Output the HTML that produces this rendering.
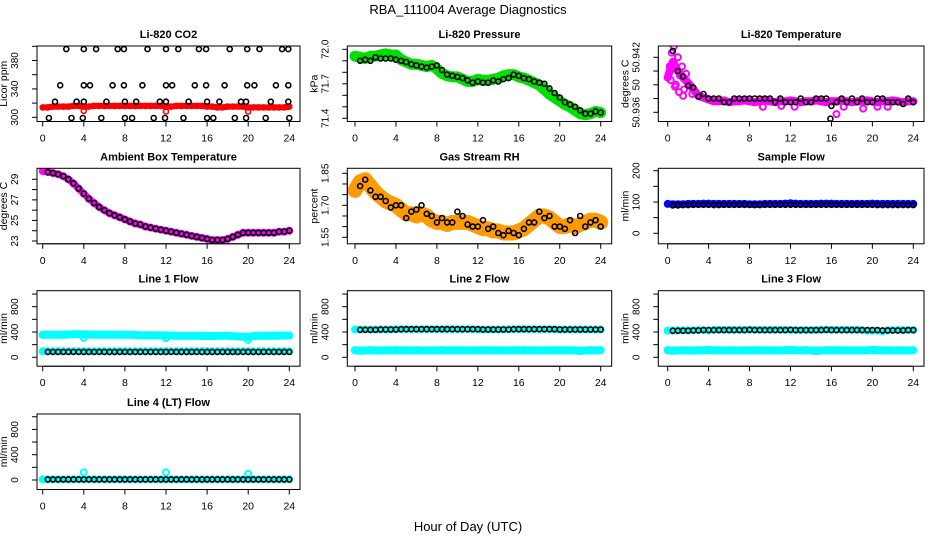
<!DOCTYPE html>
<html><head><meta charset="utf-8"><title>RBA_111004 Average Diagnostics</title>
<style>
html,body{margin:0;padding:0;background:#fff;}
svg{display:block;font-family:"Liberation Sans",Arial,sans-serif;}
</style></head>
<body>
<svg id="chart" width="936" height="540" viewBox="0 0 936 540">
<text x="468" y="14" text-anchor="middle" font-size="13">RBA_111004  Average Diagnostics</text>
<text x="468" y="531" text-anchor="middle" font-size="13">Hour of Day (UTC)</text>
</svg>
<script>
const HOURS = [0,0.5,1,1.5,2,2.5,3,3.5,4,4.5,5,5.5,6,6.5,7,7.5,8,8.5,9,9.5,10,10.5,11,11.5,12,12.5,13,13.5,14,14.5,15,15.5,16,16.5,17,17.5,18,18.5,19,19.5,20,20.5,21,21.5,22,22.5,23,23.5,24];
const BHOURS = [0.5,1,1.5,2,2.5,3,3.5,4,4.5,5,5.5,6,6.5,7,7.5,8,8.5,9,9.5,10,10.5,11,11.5,12,12.5,13,13.5,14,14.5,15,15.5,16,16.5,17,17.5,18,18.5,19,19.5,20,20.5,21,21.5,22,22.5,23,23.5,24];
const X_TICKS = [0,4,8,12,16,20,24];

// Li-820 CO2
const co2Red = [314,314,315,315,315,315,316,316,315,315,316,316,316,316,316,316,316,316,316,316,316,316,316,316,315,315,316,316,316,316,316,316,315,315,314,314,315,315,315,315,314,314,314,314,314,314,314,314,315];
const co2DipH = [4,12,20];
const co2DipV = [309,308,308];
const co2BlackH = [2.3,4.0,5.2,7.3,7.9,10.2,12.0,13.2,15.2,15.9,18.2,19.9,21.1,23.3,23.9,1.7,4.0,4.6,6.8,7.9,9.7,12.0,12.6,14.8,15.9,17.7,19.9,20.6,22.7,23.9,1.2,3.3,4.0,6.2,8.0,9.1,11.4,12.0,14.2,16.0,17.2,19.3,19.8,22.2,23.9,0.6,2.8,3.9,5.7,8.0,8.7,10.8,11.9,13.7,16.0,16.6,18.7,19.8,21.7,24.0];
const co2BlackV = [396,396,396,396,396,396,396,396,396,396,396,396,396,396,396,345,345,345,345,345,345,345,345,345,345,345,345,345,345,345,322,322,322,322,322,322,322,322,322,322,322,322,322,322,322,299,299,299,299,299,299,299,299,299,299,299,299,299,299,299];

// Li-820 Pressure
const presGreen = [71.94,71.93,71.92,71.94,71.94,71.95,71.96,71.95,71.95,71.91,71.89,71.87,71.87,71.86,71.85,71.86,71.83,71.79,71.77,71.76,71.76,71.74,71.72,71.72,71.74,71.73,71.73,71.74,71.75,71.77,71.78,71.78,71.76,71.75,71.73,71.71,71.69,71.65,71.61,71.58,71.55,71.52,71.50,71.47,71.44,71.43,71.44,71.46,71.45];
const presBlack = [71.90,71.91,71.90,71.93,71.92,71.92,71.92,71.91,71.90,71.89,71.87,71.86,71.85,71.84,71.85,71.86,71.82,71.78,71.77,71.76,71.75,71.73,71.71,71.72,71.71,71.71,71.73,71.72,71.74,71.75,71.78,71.77,71.75,71.74,71.72,71.71,71.70,71.66,71.62,71.58,71.54,71.52,71.50,71.47,71.44,71.44,71.46,71.45];

// Li-820 Temperature
const ltMag = [50.9398,50.9415,50.9405,50.9398,50.9392,50.9385,50.9378,50.9376,50.9374,50.9372,50.9372,50.9373,50.9371,50.9372,50.9372,50.9373,50.9372,50.9371,50.9372,50.9373,50.9372,50.9371,50.9372,50.9372,50.9373,50.9372,50.9371,50.9372,50.9372,50.9373,50.9372,50.9371,50.9372,50.9372,50.9373,50.9372,50.9371,50.9372,50.9372,50.9373,50.9372,50.9371,50.9372,50.9372,50.9373,50.9372,50.9371,50.9372,50.9372];
const ltExtraH = [0.2,0.4,0.6,0.8,1.0,1.2,1.4,1.6,1.8,2.0,0.3,0.7,1.1,1.5,2.4,9.3,11.1,12.4,16.5,17.2,19.1,20.5,21.5];
const ltExtraV = [50.9410,50.9425,50.9432,50.9390,50.9420,50.9400,50.9410,50.9385,50.9402,50.9392,50.9395,50.9388,50.9382,50.9378,50.9380,50.9366,50.9367,50.9366,50.9358,50.9366,50.9364,50.9366,50.9366];
const ltBlack = [50.9427,50.9405,50.9399,50.9389,50.9387,50.9377,50.9380,50.9375,50.9375,50.9375,50.9371,50.9371,50.9375,50.9375,50.9375,50.9375,50.9375,50.9375,50.9375,50.9375,50.9371,50.9375,50.9371,50.9371,50.9371,50.9375,50.9371,50.9371,50.9375,50.9375,50.9375,50.9367,50.9371,50.9375,50.9371,50.9375,50.9371,50.9375,50.9371,50.9371,50.9375,50.9375,50.9371,50.9371,50.9371,50.9369,50.9375,50.9371];
const ltBlackOutH = [15.9];
const ltBlackOutV = [50.9353];

// Ambient Box Temperature
const ambMag = [29.8,29.7,29.6,29.5,29.3,29.0,28.6,28.1,27.6,27.1,26.7,26.3,26.0,25.7,25.5,25.3,25.1,24.9,24.7,24.6,24.4,24.3,24.2,24.1,24.0,23.9,23.8,23.7,23.6,23.5,23.4,23.3,23.2,23.1,23.1,23.1,23.2,23.4,23.6,23.8,23.8,23.8,23.8,23.8,23.8,23.8,23.9,23.9,24.0];
const ambBlack = [29.7,29.6,29.5,29.3,29.0,28.6,28.1,27.6,27.1,26.7,26.3,26.0,25.7,25.5,25.3,25.1,24.9,24.7,24.6,24.4,24.3,24.2,24.1,24.0,23.9,23.8,23.7,23.6,23.5,23.4,23.3,23.2,23.1,23.1,23.1,23.2,23.4,23.6,23.8,23.8,23.8,23.8,23.8,23.8,23.8,23.9,23.9,24.0];

// Gas Stream RH
const rhOrange = [1.77,1.81,1.82,1.79,1.76,1.74,1.72,1.71,1.70,1.68,1.66,1.66,1.65,1.66,1.65,1.63,1.62,1.62,1.61,1.62,1.62,1.62,1.62,1.61,1.60,1.59,1.59,1.58,1.58,1.57,1.57,1.57,1.58,1.59,1.61,1.63,1.65,1.65,1.64,1.62,1.60,1.60,1.61,1.60,1.61,1.62,1.63,1.63,1.62];
const rhBlack = [1.79,1.82,1.77,1.74,1.74,1.72,1.69,1.70,1.70,1.64,1.67,1.68,1.70,1.66,1.65,1.62,1.64,1.62,1.62,1.67,1.65,1.61,1.60,1.60,1.63,1.59,1.60,1.57,1.56,1.58,1.57,1.56,1.59,1.62,1.62,1.67,1.64,1.65,1.60,1.60,1.59,1.63,1.57,1.65,1.60,1.62,1.63,1.60];

// Sample Flow
const sfBlue = [94,93,93,93,94,94,94,95,95,94,94,94,94,94,94,94,93,93,93,94,94,94,94,95,96,95,94,94,94,94,95,95,95,94,94,94,94,94,94,94,95,94,94,94,94,94,94,94,94];
const sfBlack = [89,89,90,90,91,91,91,91,90,90,91,91,91,91,91,91,90,90,91,91,91,91,91,91,91,91,91,91,91,91,91,91,91,91,91,91,91,91,91,91,90,90,90,90,90,90,90,90];

// Line 1 Flow
const l1Upper = [355,355,355,355,358,360,365,365,362,360,358,358,360,358,357,356,355,355,352,350,350,350,348,347,346,344,342,340,338,340,340,338,335,336,338,340,340,335,330,325,322,335,340,340,340,342,342,345,345];
const l1Lower = [95,95,95,95,95,95,95,95,95,95,95,95,95,95,95,95,95,95,95,95,95,95,95,95,95,95,95,95,95,95,95,95,95,95,95,95,95,95,95,95,95,95,95,95,95,95,95,95,95];
const l1Black = [85,85,85,85,85,85,85,85,85,85,85,85,85,85,85,85,85,85,85,85,85,85,85,85,85,85,85,85,85,85,85,85,85,85,85,85,85,85,85,85,85,85,85,85,85,85,85,85];
const l1OutH = [4,12,20];
const l1OutV = [310,300,275];

// Line 2 Flow
const l2Upper = [440,440,440,440,440,440,440,440,445,445,445,445,445,445,445,445,445,445,445,445,445,445,445,445,440,440,440,440,440,440,445,445,445,445,445,445,445,445,445,440,440,440,440,440,440,440,440,440,440];
const l2Lower = [110,105,108,110,108,106,110,108,110,108,110,108,110,108,108,110,108,110,108,110,108,110,108,110,108,110,108,110,108,110,108,110,108,110,108,110,108,110,108,110,108,110,108,110,100,108,110,108,110];
const l2Black = [435,435,435,435,440,440,440,440,445,445,445,445,445,445,445,445,445,445,445,445,445,445,445,445,440,440,440,440,440,440,445,445,445,445,445,445,445,445,445,440,440,440,440,440,440,440,440,440];

// Line 3 Flow
const l3Upper = [420,420,425,425,425,425,430,430,425,435,435,435,435,435,435,435,435,435,435,435,435,435,435,435,430,430,430,430,430,430,435,435,435,435,435,435,435,435,430,420,420,420,410,425,430,430,430,430,430];
const l3Lower = [110,105,108,110,108,106,110,108,115,108,110,108,110,108,108,110,108,110,108,110,108,110,108,110,115,110,108,110,108,100,108,110,108,110,108,110,108,110,108,110,115,110,108,110,108,108,110,108,110];
const l3Black = [420,420,420,420,425,425,430,430,430,430,430,430,430,430,430,435,430,430,430,430,430,430,430,435,430,430,430,430,430,430,435,430,430,430,430,430,430,430,430,430,430,425,425,425,425,425,430,430];

// Line 4 (LT) Flow
const l4Cyan = [10,10,10,10,10,10,10,10,10,10,10,10,10,10,10,10,10,10,10,10,10,10,10,10,10,10,10,10,10,10,10,10,10,10,10,10,10,10,10,10,10,10,10,10,10,10,10,10,10];
const l4Black = [10,10,10,10,10,10,10,10,10,10,10,10,10,10,10,10,10,10,10,10,10,10,10,10,10,10,10,10,10,10,10,10,10,10,10,10,10,10,10,10,10,10,10,10,10,10,10,10];
const l4OutH = [4,12,20];
const l4OutV = [120,120,100];

const NS = "http://www.w3.org/2000/svg";
const svg = document.getElementById("chart");
const ROW_TOP = [46,168.3,290.7,414];
const BOX_H = 75.5;
const COLS = [
  {left:37,right:300,x0:42.7,x24:289.3},
  {left:347.3,right:611.7,x0:355,x24:600.7},
  {left:658.3,right:924,x0:667.7,x24:913.3}
];
function mk(tag, attrs, parent){
  const e = document.createElementNS(NS, tag);
  for (const k in attrs) e.setAttribute(k, attrs[k]);
  (parent||svg).appendChild(e);
  return e;
}

function panel(p){
  const c = COLS[p.col], top = ROW_TOP[p.row], bot = top + BOX_H;
  const g = mk("g", {});
  
  
  const xs = h => c.x0 + (c.x24 - c.x0) * h / 24;
  const ys = v => top + p.a1[1] + (v - p.a1[0]) * (p.a2[1] - p.a1[1]) / (p.a2[0] - p.a1[0]);
  const clip = 'clip-' + p.name;
  const cp = mk("clipPath", {id: clip}, g);
  mk("rect", {x:c.left, y:top, width:c.right-c.left, height:BOX_H}, cp);
  const plot = mk("g", {"clip-path": "url(#" + clip + ")"}, g);
  
  
  for (const s of p.series){
    const sg = mk("g", {}, plot);
    
    
    if (s.band){
      const pts = s.h.map((h,i) => xs(h).toFixed(1) + "," + ys(s.v[i]).toFixed(1)).join(" ");
      const pl = mk("polyline", {points: pts, fill:"none", stroke:s.color, "stroke-width":s.band, "stroke-linejoin":"round", "stroke-linecap":"round"}, sg);
      
      
    }
    s.h.forEach((h,i) => {
      const ci = mk("circle", {cx:xs(h).toFixed(1), cy:ys(s.v[i]).toFixed(1), r:s.r||2.5, fill:"none", stroke:s.color, "stroke-width":s.sw||1.6}, sg);
      
      
    });
  }
  const box = mk("rect", {x:c.left, y:top, width:c.right-c.left, height:BOX_H, fill:"none", stroke:"#000", "stroke-width":1}, g);
  
  
  const xa = mk("g", {}, g);
  
  
  mk("line", {x1:xs(0), x2:xs(24), y1:bot, y2:bot, stroke:"#000"}, xa);
  X_TICKS.forEach(t => {
    mk("line", {x1:xs(t), x2:xs(t), y1:bot, y2:bot+5, stroke:"#000"}, xa);
    const tx = mk("text", {x:xs(t), y:bot+20, "text-anchor":"middle", "font-size":10.5}, xa);
    tx.textContent = t;
    
    
  });
  const ya = mk("g", {}, g);
  
  
  mk("line", {x1:c.left, x2:c.left, y1:ys(p.ticks[0]), y2:ys(p.ticks[p.ticks.length-1]), stroke:"#000"}, ya);
  p.ticks.forEach((t,i) => {
    const y = ys(t);
    mk("line", {x1:c.left-5, x2:c.left, y1:y, y2:y, stroke:"#000"}, ya);
    if (p.labels[i]){
      const lx = c.left - 19;
      const tx = mk("text", {x:lx, y:y, "text-anchor":"middle", "font-size":10, transform:"rotate(-90 " + lx + " " + y + ")"}, ya);
      tx.textContent = p.labels[i];
      
      
    }
  });
  const yx = c.left - 30;
  const yl = mk("text", {x:yx, y:top+BOX_H/2, "text-anchor":"middle", "font-size":10.5, transform:"rotate(-90 " + yx + " " + (top+BOX_H/2) + ")"}, g);
  yl.textContent = p.ylab;
  
  
  const tt = mk("text", {x:(c.left+c.right)/2, y:top-8, "text-anchor":"middle", "font-size":11, "font-weight":"bold"}, g);
  tt.textContent = p.title;
  
  
}

const FLOW_TICKS = [0,200,400,600,800,1000];
const FLOW_LABELS = ["0","","400","","800",""];

panel({name:"co2", col:0, row:0, title:"Li-820 CO2", ylab:"Licor ppm", a1:[300,71.3], a2:[400,0.3],
  ticks:[300,320,340,360,380,400], labels:["300","","340","","380",""],
  series:[
    {name:"co2-red-series", h:HOURS, v:co2Red, color:"#ff0000", band:6},
    {name:"co2-red-dips", h:co2DipH, v:co2DipV, color:"#ff0000"},
    {name:"co2-black-series", h:co2BlackH, v:co2BlackV, color:"#000"}
  ]});
panel({name:"pressure", col:1, row:0, title:"Li-820 Pressure", ylab:"kPa", a1:[72.0,3.3], a2:[71.4,72.3],
  ticks:[71.4,71.5,71.6,71.7,71.8,71.9,72.0], labels:["71.4","","","71.7","","","72.0"],
  series:[
    {name:"pressure-green-series", h:HOURS, v:presGreen, color:"#00e000", band:11, r:3, sw:2},
    {name:"pressure-black-series", h:BHOURS, v:presBlack, color:"#000"}
  ]});
panel({name:"li820-temp", col:2, row:0, title:"Li-820 Temperature", ylab:"degrees C", a1:[50.936,66.3], a2:[50.942,11.3],
  ticks:[50.936,50.9375,50.939,50.9405,50.942], labels:["50.936","","50","","50.942"],
  series:[
    {name:"li820-temp-magenta-series", h:HOURS, v:ltMag, color:"#ff00ff", band:8, r:3, sw:2},
    {name:"li820-temp-magenta-scatter", h:ltExtraH, v:ltExtraV, color:"#ff00ff", r:3, sw:2},
    {name:"li820-temp-black-series", h:BHOURS, v:ltBlack, color:"#000"},
    {name:"li820-temp-black-outlier", h:ltBlackOutH, v:ltBlackOutV, color:"#000"}
  ]});
panel({name:"ambient-temp", col:0, row:1, title:"Ambient Box Temperature", ylab:"degrees C", a1:[29,11], a2:[23,72.7],
  ticks:[23,24,25,26,27,28,29], labels:["23","","25","","27","","29"],
  series:[
    {name:"ambient-magenta-series", h:HOURS, v:ambMag, color:"#ff00ff", band:7, r:3, sw:2},
    {name:"ambient-black-series", h:BHOURS, v:ambBlack, color:"#000"}
  ]});
panel({name:"rh", col:1, row:1, title:"Gas Stream RH", ylab:"percent", a1:[1.85,5], a2:[1.55,69],
  ticks:[1.55,1.60,1.65,1.70,1.75,1.80,1.85], labels:["1.55","","","1.70","","","1.85"],
  series:[
    {name:"rh-orange-series", h:HOURS, v:rhOrange, color:"#ff9a00", band:15, r:3.5, sw:2},
    {name:"rh-black-series", h:BHOURS, v:rhBlack, color:"#000"}
  ]});
panel({name:"sample-flow", col:2, row:1, title:"Sample Flow", ylab:"ml/min", a1:[200,2.4], a2:[0,65],
  ticks:[0,50,100,150,200], labels:["0","","100","","200"],
  series:[
    {name:"sample-flow-blue-series", h:HOURS, v:sfBlue, color:"#0000ff", band:7, r:3, sw:2},
    {name:"sample-flow-black-series", h:BHOURS, v:sfBlack, color:"#000"}
  ]});
panel({name:"line1-flow", col:0, row:2, title:"Line 1 Flow", ylab:"ml/min", a1:[0,66.6], a2:[800,16],
  ticks:FLOW_TICKS, labels:FLOW_LABELS,
  series:[
    {name:"line1-cyan-upper", h:HOURS, v:l1Upper, color:"#00ffff", band:8, r:3, sw:2},
    {name:"line1-cyan-outliers", h:l1OutH, v:l1OutV, color:"#00ffff", r:3, sw:2},
    {name:"line1-cyan-lower", h:HOURS, v:l1Lower, color:"#00ffff", band:6, r:3, sw:2},
    {name:"line1-black-series", h:BHOURS, v:l1Black, color:"#000"}
  ]});
panel({name:"line2-flow", col:1, row:2, title:"Line 2 Flow", ylab:"ml/min", a1:[0,66.6], a2:[800,16],
  ticks:FLOW_TICKS, labels:FLOW_LABELS,
  series:[
    {name:"line2-cyan-upper", h:HOURS, v:l2Upper, color:"#00ffff", band:6, r:3, sw:2},
    {name:"line2-cyan-lower", h:HOURS, v:l2Lower, color:"#00ffff", band:8, r:3, sw:2},
    {name:"line2-black-series", h:BHOURS, v:l2Black, color:"#000"}
  ]});
panel({name:"line3-flow", col:2, row:2, title:"Line 3 Flow", ylab:"ml/min", a1:[0,66.6], a2:[800,16],
  ticks:FLOW_TICKS, labels:FLOW_LABELS,
  series:[
    {name:"line3-cyan-upper", h:HOURS, v:l3Upper, color:"#00ffff", band:6, r:3, sw:2},
    {name:"line3-cyan-lower", h:HOURS, v:l3Lower, color:"#00ffff", band:8, r:3, sw:2},
    {name:"line3-black-series", h:BHOURS, v:l3Black, color:"#000"}
  ]});
panel({name:"line4-flow", col:0, row:3, title:"Line 4 (LT) Flow", ylab:"ml/min", a1:[0,66], a2:[800,15.4],
  ticks:FLOW_TICKS, labels:FLOW_LABELS,
  series:[
    {name:"line4-cyan-series", h:HOURS, v:l4Cyan, color:"#00ffff", band:5, r:3, sw:2},
    {name:"line4-cyan-outliers", h:l4OutH, v:l4OutV, color:"#00ffff", r:3, sw:2},
    {name:"line4-black-series", h:BHOURS, v:l4Black, color:"#000"}
  ]});
</script>
</body></html>
